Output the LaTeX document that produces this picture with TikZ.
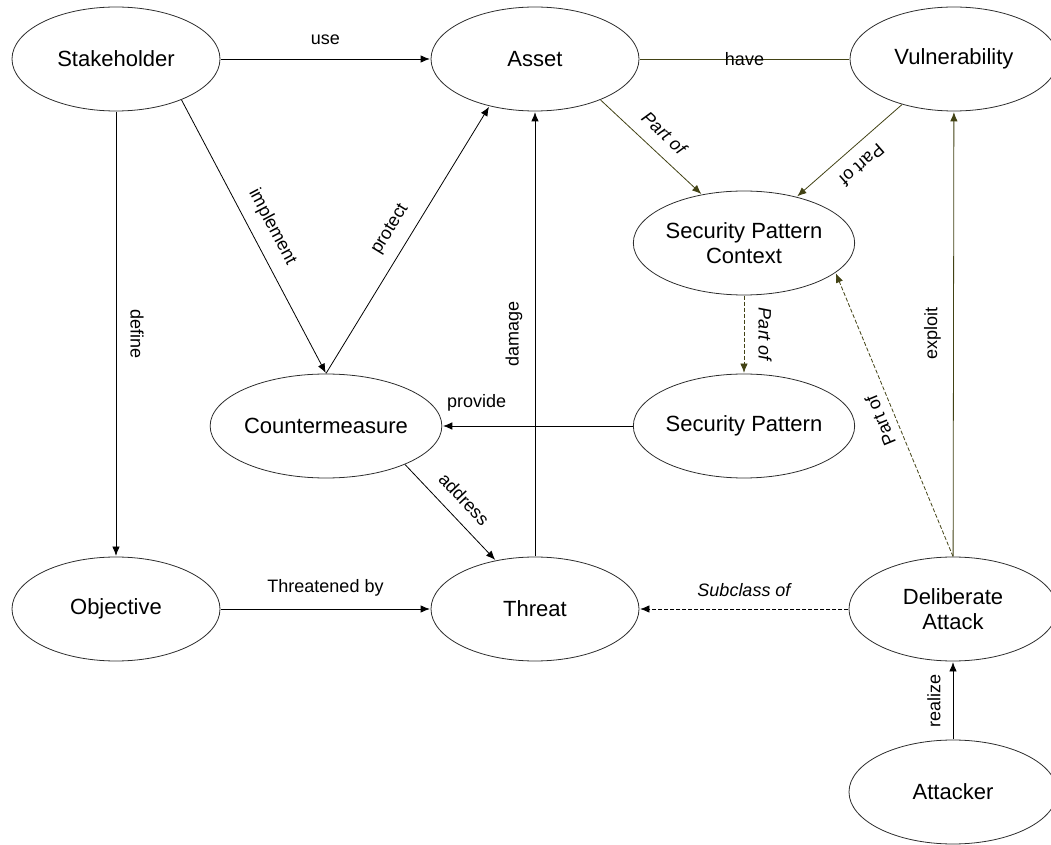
\documentclass[tikz,border=0pt]{standalone}
\usepackage{fontspec}
\setmainfont{Liberation Sans}
\usetikzlibrary{shapes.geometric,arrows.meta}

\definecolor{olivelink}{RGB}{66,66,20}
\definecolor{rim}{RGB}{45,45,45}

\begin{document}
\begin{tikzpicture}[x=0.5pt,y=-0.5pt]
\tikzset{ >={Latex[length=5pt,width=4pt]}, line width=0.55pt,
  concept/.style={ellipse, draw=rim, minimum width=104pt, minimum height=52pt,
    inner sep=0pt, align=center, font=\fontsize{11}{12.5}\selectfont},
  rel/.style={font=\fontsize{9}{10}\selectfont, inner sep=2pt},
  relit/.style={rel, font=\fontsize{9}{10}\selectfont\itshape},
  olv/.style={draw=olivelink},
  dsh/.style={dash pattern=on 2pt off 1pt},
}

\useasboundingbox (0,0) rectangle (1051,845);

%\draw [lightgray, dashed](0,0) grid[step=50] (1051,845);

\node [concept] (SH)  at (116,59)  {Stakeholder};
\node [concept] (AS)  at (535,59)  {Asset};
\node [concept] (VU)  at (954,59)  {Vulnerability};
\node [concept] (SPC) at (744,243) {Security Pattern\\Context};
\node [concept] (CM)  at (326,426) {Countermeasure};
\node [concept] (SP)  at (744,426) {Security Pattern};
\node [concept] (OB)  at (116,609) {Objective};
\node [concept] (TH)  at (535,609) {Threat};
\node [concept] (DA)  at (953,609) {Deliberate\\Attack};
\node [concept] (AT)  at (953,792) {Attacker};

\draw [->] (SH) -- node [rel, above=5pt] {use} (AS);
\draw [olv] (AS) -- node [rel] {have} (VU);
\draw [->] (SH.south) -- node [rel, sloped, above=5pt] {define} (OB.north);
\draw [->] (SH.-32) -- node [rel, sloped, above=4pt] {implement} (CM.north);
\draw [->] (CM.north) -- node [rel, sloped, above=4pt] {protect} (AS.-134);
\draw [->, olv] (AS.-32) -- node [relit, sloped, above=4pt] {Part of} (SPC.131);
\draw [->, olv] (VU) -- node [rel, sloped, allow upside down, above=4pt] {Part of} (SPC);
\draw [->, olv, dsh] (SPC) -- node [relit, sloped, above=5pt] {Part of} (SP);
\draw [->] (SP) -- node [rel, above=5pt, pos=0.82] {provide} (CM);
\draw [->] (CM.-26) -- node [rel, sloped, above=4pt] {address} (TH.129);
\draw [->] (TH) -- node [rel, sloped, above=4pt] {damage} (AS);
\draw [->] (OB) -- node [rel, above=4pt] {Threatened by} (TH);
\draw [->, dsh] (DA) -- node [relit, above=4pt] {Subclass of} (TH);
\draw [->, olv, dsh] (DA.north) -- node [rel, sloped, allow upside down, above=2pt] {Part of} (SPC.-18);
\draw [->, olv] (DA) -- node [rel, sloped, above=4pt] {exploit} (VU);
\draw [->] (AT) -- node [rel, sloped, above=4pt] {realize} (DA);
\end{tikzpicture}
\end{document}
